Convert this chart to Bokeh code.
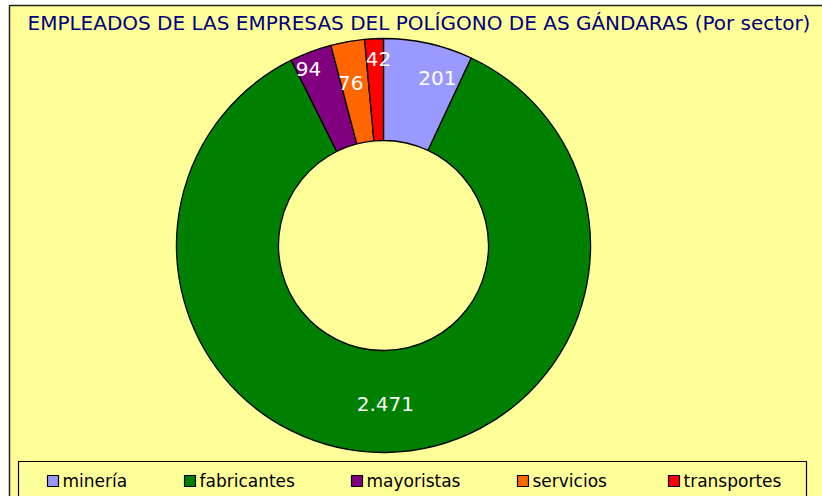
import math
from bokeh.plotting import figure
from bokeh.models import Range1d, ColumnDataSource
from bokeh.core.properties import value
from bokeh.embed import file_html
from bokeh.resources import INLINE

# ---- data ----
sectors = ["minería", "fabricantes", "mayoristas", "servicios", "transportes"]
employees = [201, 2471, 94, 76, 42]
value_labels = ["201", "2.471", "94", "76", "42"]
colors = ["#9999FF", "#008000", "#800080", "#FF6600", "#FF0000"]
title_text = "EMPLEADOS DE LAS EMPRESAS DEL POLÍGONO DE AS GÁNDARAS (Por sector)"

# ---- layout (pixels) ----
W, H = 822, 496
CX, CY = 383, 245
R_OUT, R_IN = 207, 105
label_r = [176, 159, 192, 166, 187]
label_shift_deg = [5.3, 0.0, -2.4, -1.4, 1.1]
legend_x = [47, 184, 351, 517, 668]
FONT = "DejaVu Sans"


def py(y):
    return H - y


total = sum(employees)
starts, ends, lx, ly = [], [], [], []
cum = 0.0
for i, v in enumerate(employees):
    a0 = math.pi / 2 - cum / total * 2 * math.pi
    cum += v
    a1 = math.pi / 2 - cum / total * 2 * math.pi
    starts.append(a0)
    ends.append(a1)
    mid = (a0 + a1) / 2 - math.radians(label_shift_deg[i])
    lx.append(CX + label_r[i] * math.cos(mid))
    ly.append(py(CY) + label_r[i] * math.sin(mid))

src = ColumnDataSource(dict(sector=sectors, val=employees, start=starts, end=ends,
                            color=colors, lx=lx, ly=ly, lab=value_labels))

p = figure(width=W, height=H, x_range=Range1d(0, W), y_range=Range1d(0, H),
           output_backend="svg", toolbar_location=None, min_border=0)
p.axis.visible = False
p.grid.visible = False
p.outline_line_color = None
p.background_fill_color = "white"
p.border_fill_color = "white"

# chart area
p.quad(left=9, right=W + 20, top=py(5), bottom=-20, fill_color="#FFFF99",
       line_color="#222222", line_width=1.5)

# donut
p.annular_wedge(x=CX, y=py(CY), inner_radius=R_IN, outer_radius=R_OUT,
                start_angle="start", end_angle="end", direction="clock",
                fill_color="color", line_color="black", line_width=1.3, source=src)

# value labels
p.text(x="lx", y="ly", text="lab", source=src, text_color="white",
       text_font=value(FONT), text_font_size="20px",
       text_align="center", text_baseline="middle")

# title
p.text(x=[27], y=[py(22)], text=[title_text], text_color="#000080",
       text_font=value(FONT), text_font_size="20px",
       text_align="left", text_baseline="middle")

# legend box
p.quad(left=18, right=806, top=py(461), bottom=-20, fill_color=None,
       line_color="black", line_width=1.2)

sw = 11
leg = ColumnDataSource(dict(sx=[x + sw / 2 for x in legend_x],
                            tx=[x + sw + 4 for x in legend_x],
                            y=[py(480.5)] * len(sectors),
                            color=colors, name=sectors))
p.rect(x="sx", y="y", width=sw, height=sw, fill_color="color",
       line_color="black", line_width=1.2, source=leg)
p.text(x="tx", y="y", text="name", source=leg, text_color="black",
       text_font=value(FONT), text_font_size="17px",
       text_align="left", text_baseline="middle")

open("out.html", "w").write(file_html(p, INLINE))
